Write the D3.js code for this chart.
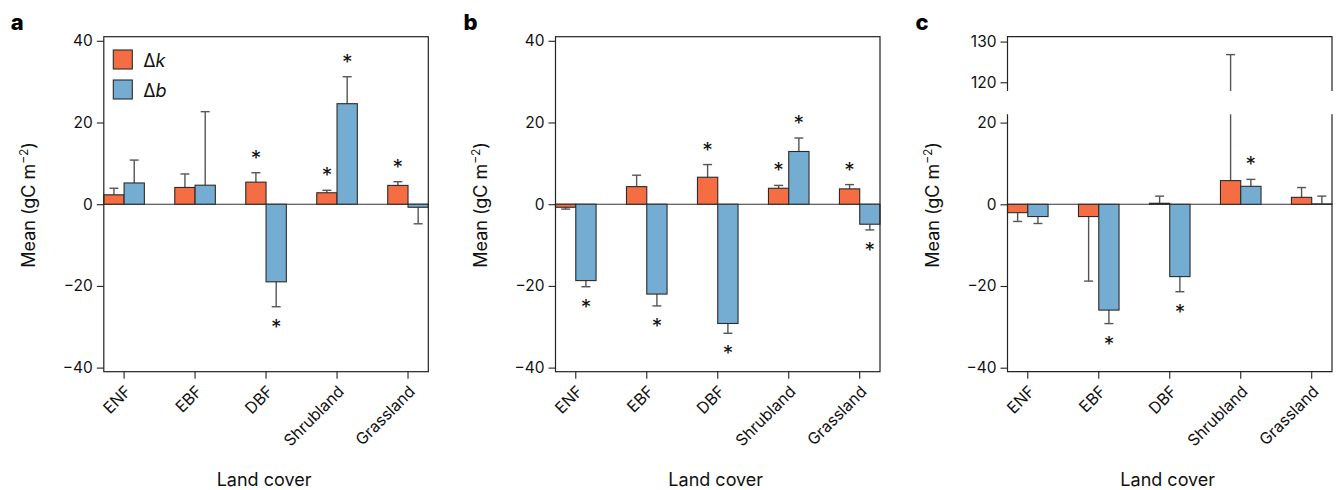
<!DOCTYPE html>
<html>
<head>
<meta charset="utf-8">
<script src="https://cdn.jsdelivr.net/npm/d3@7"></script>
<style>
  html, body { margin: 0; padding: 0; background: #fff; }
  svg { display: block; font-family: Inter, "Noto Sans", sans-serif; }
</style>
</head>
<body>
<svg id="chart" width="1336" height="490"></svg>
<script>
// Land-cover classes shared by every panel
const landCovers = ["ENF", "EBF", "DBF", "Shrubland", "Grassland"];

// Panel a: mean change (gC m-2), standard error, significance flags
const dkMeanA = [2.3, 4.1, 5.4, 2.8, 4.6];
const dkErrA  = [1.6, 3.3, 2.3, 0.6, 0.9];
const dkSigA  = [false, false, true, true, true];
const dbMeanA = [5.2, 4.65, -19.0, 24.6, -0.75];
const dbErrA  = [5.6, 18.0, 6.1, 6.6, 4.05];
const dbSigA  = [false, false, true, true, false];

// Panel b
const dkMeanB = [-0.75, 4.3, 6.6, 3.9, 3.75];
const dkErrB  = [0.45, 2.8, 3.1, 0.7, 1.05];
const dkSigB  = [false, false, true, true, true];
const dbMeanB = [-18.7, -22.0, -29.2, 12.9, -4.9];
const dbErrB  = [1.5, 2.9, 2.4, 3.3, 1.4];
const dbSigB  = [true, true, true, true, true];

// Panel c
const dkMeanC = [-2.05, -3.0, 0.25, 5.8, 1.7];
const dkErrC  = [2.15, 15.8, 1.75, 121.0, 2.4];
const dkSigC  = [false, false, false, false, false];
const dbMeanC = [-3.0, -25.9, -17.7, 4.4, 0.1];
const dbErrC  = [1.7, 3.3, 3.7, 1.7, 1.9];
const dbSigC  = [false, true, true, true, false];

// Axis ticks
const yTicksMain  = [-40, -20, 0, 20, 40];
const yTicksLower = [-40, -20, 0, 20];
const yTicksUpper = [120, 130];

const seriesKeys = ["dk", "db"];
const seriesColor = { dk: "#f46d43", db: "#74add1" };

const svg = d3.select("#chart");

const plotTop = 36.7, plotBottom = 371.7, panelW = 324.5;
const panels = [
  { letter: "a", left: 103.8, dk: [dkMeanA, dkErrA, dkSigA], db: [dbMeanA, dbErrA, dbSigA], legend: true },
  { letter: "b", left: 555.5, dk: [dkMeanB, dkErrB, dkSigB], db: [dbMeanB, dbErrB, dbSigB] },
  { letter: "c", left: 1007.5, dk: [dkMeanC, dkErrC, dkSigC], db: [dbMeanC, dbErrC, dbSigC], broken: true }
];

const fmt = d3.format("d");

panels.forEach(p => {
  const g = svg.append("g").attr("transform", `translate(${p.left},0)`);

  const x = d3.scaleBand().domain(landCovers).range([0, panelW])
    .paddingInner(1.5 / 3.5).paddingOuter(0);
  const xs = d3.scaleBand().domain(seriesKeys).range([0, x.bandwidth()]);

  // y scales: single range, or a lower part plus an upper part across a break
  let yLow, yUp = null;
  if (p.broken) {
    yLow = d3.scaleLinear().domain([-40.98, 22.03]).range([plotBottom, 114.3]);
    yUp  = d3.scaleLinear().domain([117.86, 131.2]).range([91, plotTop]);
  } else {
    yLow = d3.scaleLinear().domain([-41, 41]).range([plotBottom, plotTop]);
  }
  const lowTop = yLow.range()[1];

  // y axes
  g.append("g").attr("class", "yaxis")
    .call(d3.axisLeft(yLow).tickValues(p.broken ? yTicksLower : yTicksMain)
      .tickSize(7).tickPadding(4).tickFormat(fmt));
  if (yUp) {
    g.append("g").attr("class", "yaxis")
      .call(d3.axisLeft(yUp).tickValues(yTicksUpper).tickSize(7).tickPadding(4).tickFormat(fmt));
  }
  g.selectAll(".yaxis .domain").remove();
  g.selectAll(".yaxis line").attr("stroke", "#222").attr("stroke-width", 1.1);
  g.selectAll(".yaxis text").attr("font-size", 15.5).attr("fill", "#111")
    .attr("font-family", "Inter, sans-serif");

  // zero line
  g.append("line").attr("x1", 0).attr("x2", panelW)
    .attr("y1", yLow(0)).attr("y2", yLow(0))
    .attr("stroke", "#333").attr("stroke-width", 1.1);

  // bars, error bars, significance marks
  seriesKeys.forEach(key => {
    const [means, errs, sigs] = p[key];
    const rows = landCovers.map((c, i) => ({ c, v: means[i], e: errs[i], s: sigs[i] }));
    const bx = d => x(d.c) + xs(key);
    const cx = d => bx(d) + xs.bandwidth() / 2;
    const errEnd = d => d.v >= 0 ? d.v + d.e : d.v - d.e;

    // error bars (drawn under bars)
    const eg = g.append("g").attr("stroke", "#555").attr("stroke-width", 1.4);
    rows.forEach(d => {
      const end = errEnd(d);
      const cap = 4.5;
      if (yUp && end > yLow.domain()[1]) {
        eg.append("line").attr("x1", cx(d)).attr("x2", cx(d))
          .attr("y1", yLow(d.v)).attr("y2", lowTop);
        eg.append("line").attr("x1", cx(d)).attr("x2", cx(d))
          .attr("y1", yUp.range()[0]).attr("y2", yUp(end));
        eg.append("line").attr("x1", cx(d) - cap).attr("x2", cx(d) + cap)
          .attr("y1", yUp(end)).attr("y2", yUp(end));
      } else {
        eg.append("line").attr("x1", cx(d)).attr("x2", cx(d))
          .attr("y1", yLow(d.v)).attr("y2", yLow(end));
        eg.append("line").attr("x1", cx(d) - cap).attr("x2", cx(d) + cap)
          .attr("y1", yLow(end)).attr("y2", yLow(end));
      }
    });

    g.append("g").selectAll("rect").data(rows).join("rect")
      .attr("x", bx).attr("width", xs.bandwidth())
      .attr("y", d => yLow(Math.max(0, d.v)))
      .attr("height", d => Math.abs(yLow(d.v) - yLow(0)))
      .attr("fill", seriesColor[key])
      .attr("stroke", "#2a2a2a").attr("stroke-width", 1.1);

    g.append("g").selectAll("text").data(rows.filter(d => d.s)).join("text")
      .attr("x", cx)
      .attr("y", d => d.v >= 0 ? yLow(errEnd(d)) - 18 + 11 : yLow(errEnd(d)) + 17 + 11)
      .attr("text-anchor", "middle").attr("font-size", 21).attr("fill", "#111")
      .text("*");
  });

  // frame
  const fr = g.append("g").attr("fill", "none").attr("stroke", "#222").attr("stroke-width", 1.2);
  if (p.broken) {
    fr.append("path").attr("d", `M0,91V${plotTop}H${panelW}V91`);
    fr.append("path").attr("d", `M0,${lowTop}V${plotBottom}H${panelW}V${lowTop}`);
  } else {
    fr.append("rect").attr("x", 0).attr("y", plotTop).attr("width", panelW).attr("height", plotBottom - plotTop);
  }

  // x axis with rotated category labels
  const ax = g.append("g").attr("class", "xaxis").attr("transform", `translate(0,${plotBottom})`)
    .call(d3.axisBottom(x).tickSize(7).tickPadding(0));
  ax.select(".domain").remove();
  ax.selectAll("line").attr("stroke", "#222").attr("stroke-width", 1.1);
  ax.selectAll("text")
    .attr("font-size", 16).attr("fill", "#111").attr("font-family", "Inter, sans-serif")
    .attr("text-anchor", "end")
    .attr("dy", "0.35em").attr("y", 0)
    .attr("transform", "translate(4,17) rotate(-45)");

  // axis titles
  g.append("text").attr("x", panelW / 2 - 2).attr("y", 486)
    .attr("text-anchor", "middle").attr("font-size", 18).attr("fill", "#111")
    .text("Land cover");
  const yl = g.append("text")
    .attr("transform", "translate(-69,205) rotate(-90)")
    .attr("text-anchor", "middle").attr("font-size", 18).attr("fill", "#111");
  yl.append("tspan").text("Mean (gC m");
  yl.append("tspan").attr("font-size", 12).attr("dy", -7).text("−2");
  yl.append("tspan").attr("dy", 7).text(")");

  // panel letter
  g.append("text").attr("x", p.letter === "a" ? -93 : -92).attr("y", 30)
    .attr("font-size", 22).attr("font-weight", 800).attr("fill", "#000")
    .attr("font-family", "Inter, Arial, sans-serif")
    .text(p.letter);

  // legend
  if (p.legend) {
    const lg = g.append("g").attr("transform", "translate(9.5,50)");
    seriesKeys.forEach((key, i) => {
      const row = lg.append("g").attr("transform", `translate(0,${i * 30})`);
      row.append("rect").attr("width", 19).attr("height", 19)
        .attr("fill", seriesColor[key]).attr("stroke", "#2a2a2a").attr("stroke-width", 1.1);
      const t = row.append("text").attr("x", 30).attr("y", 16.5)
        .attr("font-size", 18).attr("fill", "#111");
      t.append("tspan").text("Δ");
      t.append("tspan").attr("font-style", "italic").text(key === "dk" ? "k" : "b");
    });
  }
});
</script>
</body>
</html>
